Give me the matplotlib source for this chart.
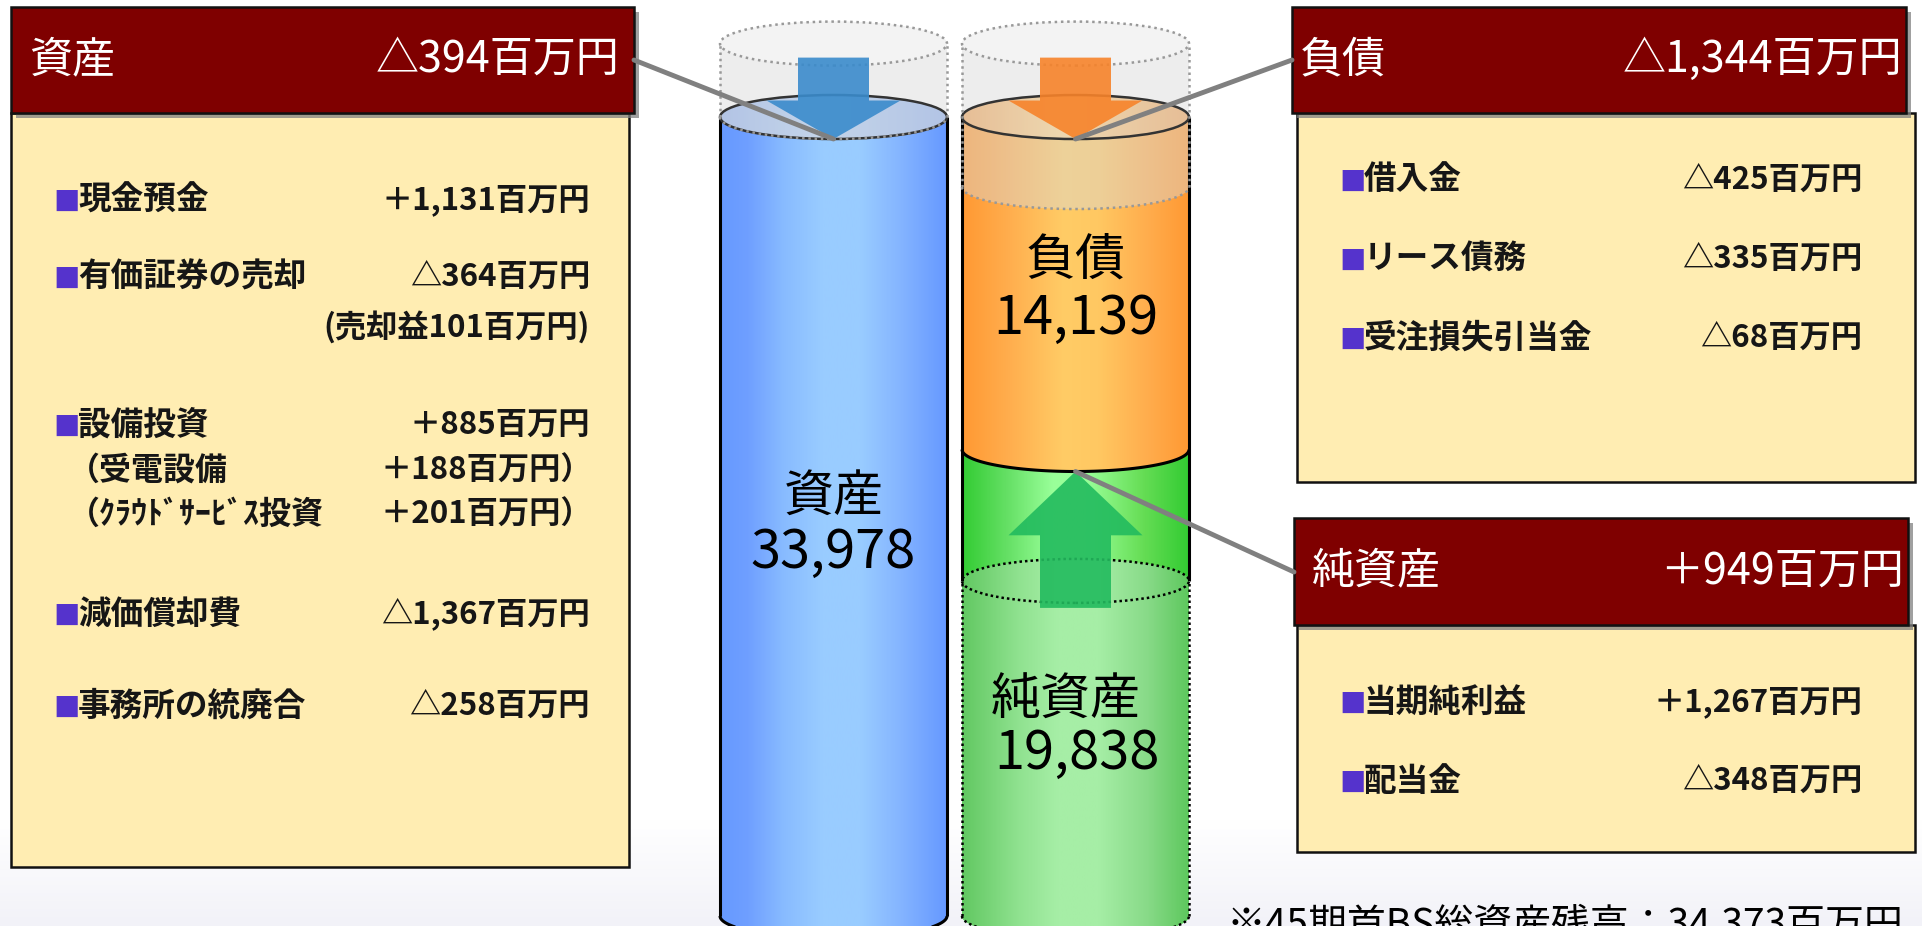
import numpy as np
import matplotlib
matplotlib.use("Agg")
import matplotlib.pyplot as plt
from matplotlib.patches import Rectangle, Polygon, Ellipse, ConnectionPatch
from matplotlib.colors import LinearSegmentedColormap

plt.rcParams['font.family'] = ['Noto Sans CJK JP', 'DejaVu Sans']

# --- balance sheet figures (百万円) ---
assets_total = 33978
liabilities = 14139
net_assets = 19838
opening_total = 34373

header_titles = ['資産', '負債', '純資産']
header_changes = [-394, -1344, 949]

asset_items = ['現金預金', '有価証券の売却', '設備投資', '減価償却費', '事務所の統廃合']
asset_changes = [1131, -364, 885, -1367, -258]
sale_gain = 101
asset_sub_items = ['（受電設備', '（ｸﾗｳﾄﾞｻｰﾋﾞｽ投資']
asset_sub_changes = [188, 201]

liab_items = ['借入金', 'リース債務', '受注損失引当金']
liab_changes = [-425, -335, -68]

net_items = ['当期純利益', '配当金']
net_changes = [1267, -348]

# previous-period outlines as drawn in the picture (schematic)
ghost_top = 37100
ghost_bottom_liab = 31000
prev_net_level = 14250


def yen(v):
    return ('＋' if v > 0 else '△') + f'{abs(v):,}百万円'


W, H = 1922, 926
fig = plt.figure(figsize=(W / 100, H / 100), dpi=100)
fig.patch.set_facecolor('white')

# pixel axes for the panels
ax = fig.add_axes([0, 0, 1, 1])
ax.axis('off')

# soft lavender fade at the bottom
fade = LinearSegmentedColormap.from_list('fade', ['#ffffff', '#f2f2f8'])
ax.imshow(np.linspace(0, 1, 200)[:, None], cmap=fade, aspect='auto',
          extent=(0, W, H, 820), zorder=0)

# data axes for the cylinders
cax = fig.add_axes([0, 0, 1, 1])
cax.axis('off')
BASE_PX, TOP_PX = 916, 117
ppu = (BASE_PX - TOP_PX) / assets_total
EH = 22 / ppu
CX = [833.5, 1075.5]
CW = 227
HW = CW / 2


def cyl_verts(xc, y0, y1, round_top=False):
    t = np.linspace(np.pi, 2 * np.pi, 90)
    pts = [(xc - HW, y1)]
    pts += list(zip(xc + HW * np.cos(t), y0 + EH * np.sin(t)))
    pts.append((xc + HW, y1))
    if round_top:
        t2 = np.linspace(0, np.pi, 90)
        pts += list(zip(xc + HW * np.cos(t2), y1 + EH * np.sin(t2)))
    return np.array(pts)


def grad_fill(patch, stops, xc, ylo, yhi, z):
    patch.set_facecolor('none')
    patch.set_edgecolor('none')
    cax.add_patch(patch)
    cmap = LinearSegmentedColormap.from_list('g', stops)
    im = cax.imshow(np.linspace(0, 1, 300)[None, :], cmap=cmap, aspect='auto',
                    extent=(xc - HW, xc + HW, ylo, yhi), zorder=z,
                    interpolation='bilinear')
    im.set_clip_path(patch)


def front_arc(xc, y, **kw):
    t = np.linspace(np.pi, 2 * np.pi, 90)
    cax.plot(xc + HW * np.cos(t), y + EH * np.sin(t), **kw)


blue_stops = [(0, '#6699ff'), (0.12, '#6f9fff'), (0.28, '#88bbff'), (0.45, '#99ccff'),
              (0.62, '#99ccff'), (0.8, '#84b4ff'), (1, '#6699ff')]
orange_stops = [(0, '#ff9933'), (0.2, '#ffad4d'), (0.45, '#ffcc66'), (0.6, '#ffc862'),
                (0.82, '#ffad4d'), (1, '#ff9933')]
green_stops = [(0, '#33cc33'), (0.2, '#66e066'), (0.4, '#99ff99'), (0.55, '#99ff99'),
               (0.8, '#66dd55'), (1, '#33cc33')]
green_low_stops = [(0, '#62c862'), (0.25, '#90e290'), (0.42, '#a6eea6'), (0.6, '#a6eea6'),
                   (0.82, '#88da88'), (1, '#5ec85e')]
blue_cap = [(0, '#94b4f0'), (0.45, '#b4d2f8'), (1, '#94b4f0')]
orange_cap = [(0, '#f2a860'), (0.45, '#ffd890'), (1, '#f2a860')]

bx, rx = CX
total_right = net_assets + liabilities

# bodies
v = cyl_verts(bx, 0, assets_total)
grad_fill(Polygon(v), blue_stops, bx, -EH, assets_total, 2)
v = cyl_verts(rx, 0, net_assets)
grad_fill(Polygon(v), green_stops, rx, -EH, net_assets, 1)
v = cyl_verts(rx, 0, prev_net_level, round_top=True)
grad_fill(Polygon(v), green_low_stops, rx, -EH, prev_net_level + EH, 1.1)
v = cyl_verts(rx, net_assets, total_right)
grad_fill(Polygon(v), orange_stops, rx, net_assets - EH, total_right, 2)

# caps
grad_fill(Ellipse((bx, assets_total), CW, 2 * EH), blue_cap, bx,
          assets_total - EH, assets_total + EH, 3)
grad_fill(Ellipse((rx, total_right), CW, 2 * EH), orange_cap, rx,
          total_right - EH, total_right + EH, 3)

# previous-period ghost cylinders
for xc, gb in zip(CX, [assets_total, ghost_bottom_liab]):
    cax.add_patch(Polygon(cyl_verts(xc, gb, ghost_top, round_top=True),
                          fc='#d9d9d9', ec='none', alpha=0.45, zorder=4))
    cax.add_patch(Ellipse((xc, ghost_top), CW, 2 * EH, fc='#f3f3f3', ec='none', zorder=4.1))

# outlines
edge = dict(color='black', lw=2.2, zorder=5, solid_capstyle='butt')
dots_k = dict(color='black', lw=1.8, ls=(0, (1, 1.2)), zorder=5)
dots_g = dict(color='#999999', lw=1.8, ls=(0, (1, 1.5)), zorder=5)
for xs in (bx - HW, bx + HW):
    cax.plot([xs, xs], [0, assets_total], **edge)
front_arc(bx, 0, **edge)
for xs in (rx - HW, rx + HW):
    cax.plot([xs, xs], [prev_net_level, total_right], **edge)
    cax.plot([xs, xs], [0, prev_net_level], **dots_k)
front_arc(rx, net_assets, **edge)
front_arc(rx, 0, **dots_k)
cax.add_patch(Ellipse((rx, prev_net_level), CW, 2 * EH, fc='none', ec='black',
                      lw=1.8, ls=(0, (1, 1.2)), zorder=5))
for xc, lvl in zip(CX, [assets_total, total_right]):
    cax.add_patch(Ellipse((xc, lvl), CW, 2 * EH, fc='none', ec='#333333', lw=1.8, zorder=5))
for xc, gb in zip(CX, [assets_total, ghost_bottom_liab]):
    cax.add_patch(Ellipse((xc, ghost_top), CW, 2 * EH, fc='none', ec='#999999',
                          lw=1.8, ls=(0, (1, 1.5)), zorder=5))
    for xs in (xc - HW, xc + HW):
        cax.plot([xs, xs], [gb, ghost_top], **dots_g)
    front_arc(xc, gb, **dots_g)


# arrows
def down_arrow(xc, level, color):
    tip = level - EH
    base = tip + 1.75 * EH
    top = tip + 3.7 * EH
    pts = [(xc - 35.5, top), (xc + 35.5, top), (xc + 35.5, base), (xc + 67, base),
           (xc, tip), (xc - 67, base), (xc - 35.5, base)]
    cax.add_patch(Polygon(pts, fc=color, ec='none', alpha=0.9, zorder=6))


def up_arrow(xc, level, color):
    tip = level - EH
    base = tip - 2.9 * EH
    bot = tip - 6.2 * EH
    pts = [(xc - 35.5, bot), (xc + 35.5, bot), (xc + 35.5, base), (xc + 67, base),
           (xc, tip), (xc - 67, base), (xc - 35.5, base)]
    cax.add_patch(Polygon(pts, fc=color, ec='none', alpha=0.9, zorder=6))


down_arrow(bx, assets_total, '#3a8bcc')
down_arrow(rx, total_right, '#f7832a')
up_arrow(rx, net_assets, '#22bb5e')

# cylinder labels
lab = dict(textcoords='offset points', ha='center', va='center',
           color='black', zorder=7)
cax.annotate(header_titles[0], (bx, assets_total / 2), xytext=(0, 14), fontsize=36, **lab)
cax.annotate(f'{assets_total:,}', (bx, assets_total / 2), xytext=(0, -26), fontsize=39, **lab)
mid_l = net_assets + liabilities / 2
cax.annotate(header_titles[1], (rx, mid_l), xytext=(0, 16), fontsize=36, **lab)
cax.annotate(f'{liabilities:,}', (rx, mid_l), xytext=(0, -25), fontsize=39, **lab)
cax.annotate(header_titles[2], (rx, net_assets / 2), xytext=(-7, -13), fontsize=36, **lab)
cax.annotate(f'{net_assets:,}', (rx, net_assets / 2), xytext=(1, -51), fontsize=39, **lab)

cax.set_xlim(0, W)
cax.set_ylim(-(H - BASE_PX) / ppu, BASE_PX / ppu)

# --- side panels (pixel layout) ---
YELLOW = '#ffedb2'
MAROON = '#7f0000'
INK = '#161616'


def panel(hx, hy, hw, hh, bx0, bx1, by1, title, change, lpad, rpad):
    ax.add_patch(Rectangle((bx0, hy + hh), bx1 - bx0, by1 - hy - hh, fc=YELLOW,
                           ec='#111111', lw=1.8, zorder=1))
    ax.add_patch(Rectangle((hx + 5, hy + 5), hw, hh, fc='#808080', ec='none',
                           alpha=0.75, zorder=2))
    ax.add_patch(Rectangle((hx, hy), hw, hh, fc=MAROON, ec='#111111', lw=1.8, zorder=3))
    ax.text(hx + lpad, hy + hh / 2, title, color='white', fontsize=31,
            ha='left', va='center', zorder=4)
    ax.text(hx + hw - rpad, hy + hh / 2, yen(change), color='white', fontsize=31,
            ha='right', va='center', zorder=4)


def item(xb, xr, y, label, value):
    # xb: centre of the bullet square
    ax.text(xb, y + 3, '■', color='#5533cc', fontsize=19, ha='center', va='center', zorder=4)
    ax.text(xb + 11, y, label, fontsize=23.5, fontweight='bold', color=INK,
            ha='left', va='center', zorder=4)
    ax.text(xr, y, value, fontsize=22.5, fontweight='bold', color=INK,
            ha='right', va='center', zorder=4)


panel(11, 7, 623, 106, 11, 629, 867, header_titles[0], header_changes[0], 18, 15)
panel(1292, 7, 614, 106, 1297, 1915, 482, header_titles[1], header_changes[1], 8, 4)
panel(1294, 518, 614, 107, 1297, 1915, 852, header_titles[2], header_changes[2], 18, 4)

asset_y = [200, 277, 425, 614, 706]
for y, lbl, chg in zip(asset_y, asset_items, asset_changes):
    item(67, 590, y, lbl, yen(chg))
ax.text(590, 327, f'(売却益{sale_gain}百万円)', fontsize=22.5, fontweight='bold',
        color=INK, ha='right', va='center', zorder=4)
for y, lbl, chg in zip([471, 515], asset_sub_items, asset_sub_changes):
    ax.text(68, y, lbl, fontsize=23, fontweight='bold', color=INK,
            ha='left', va='center', zorder=4)
    ax.text(592, y, yen(chg) + '）', fontsize=22.5, fontweight='bold', color=INK,
            ha='right', va='center', zorder=4)

for y, lbl, chg in zip([180, 259, 338], liab_items, liab_changes):
    item(1353, 1862, y, lbl, yen(chg))
for y, lbl, chg in zip([702, 781], net_items, net_changes):
    item(1353, 1862, y, lbl, yen(chg))

ax.text(1226, 937, f'※45期首BS総資産残高：{opening_total:,}百万円', fontsize=28,
        color='black', ha='left', va='baseline', zorder=4)

ax.set_xlim(0, W)
ax.set_ylim(H, 0)

# connector lines from the panels to the cylinders
line = dict(color='#808080', lw=3.5, zorder=10)
fig.add_artist(ConnectionPatch((634, 60), (bx, assets_total - EH), coordsA=ax.transData,
                               coordsB=cax.transData, **line))
fig.add_artist(ConnectionPatch((1292, 60), (rx, total_right - EH), coordsA=ax.transData,
                               coordsB=cax.transData, **line))
fig.add_artist(ConnectionPatch((1294, 572), (rx, net_assets - EH), coordsA=ax.transData,
                               coordsB=cax.transData, **line))

fig.savefig('out.png', dpi=100, facecolor='white')
